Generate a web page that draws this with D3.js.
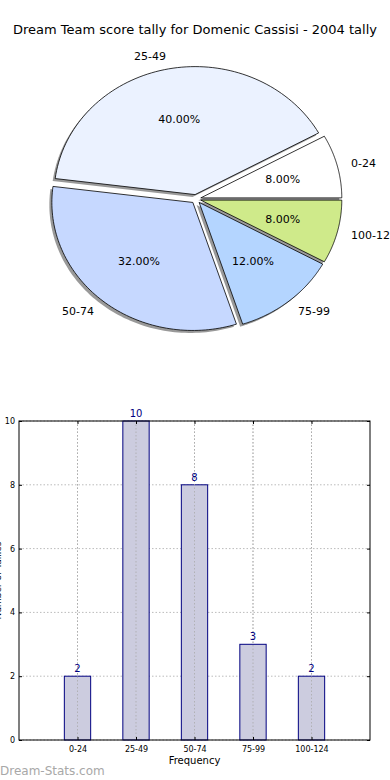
<!DOCTYPE html>
<html><head><meta charset="utf-8">
<script src="https://cdn.jsdelivr.net/npm/d3@7/dist/d3.min.js"></script>
<style>body{margin:0;background:#fff;}svg{display:block;font-family:"DejaVu Sans",sans-serif;}</style>
</head><body>
<script>
const categories = ["0-24","25-49","50-74","75-99","100-124"];
const counts = [2,10,8,3,2];
const sliceColors = ["#ffffff","#ebf2ff","#c6d8ff","#b4d5ff","#cfea8a"];
const yTicks = [0,2,4,6,8,10];
const title = "Dream Team score tally for Domenic Cassisi - 2004 tally";

const W = 390, H = 780;
const svg = d3.select("body").append("svg").attr("width", W).attr("height", H);

svg.append("text").attr("x", 195).attr("y", 34).attr("text-anchor","middle")
  .attr("font-size", 13).attr("fill","#000").text(title);

// ---- Pie (elliptical, matplotlib style: start at 3 o'clock, counter-clockwise)
const cx = 196, cy = 199, rx = 141, ry = 128, ex = 0.035;
const total = d3.sum(counts);
const angScale = d3.scaleLinear().domain([0, total]).range([0, 2*Math.PI]);
let cum = 0;
const slices = counts.map((v,i)=>{ const a0 = angScale(cum); cum += v; const a1 = angScale(cum); return {i, v, a0, a1, mid:(a0+a1)/2}; });

function slicePath(s, ox, oy){
  const p = d3.path();
  const sx = cx + ex*rx*Math.cos(s.mid) + ox, sy = cy - ex*ry*Math.sin(s.mid) + oy;
  p.moveTo(sx, sy);
  const n = 80;
  for(let k=0;k<=n;k++){
    const a = s.a0 + (s.a1 - s.a0)*k/n;
    p.lineTo(sx + rx*Math.cos(a), sy - ry*Math.sin(a));
  }
  p.closePath();
  return p.toString();
}
const pieG = svg.append("g");
pieG.selectAll("path.shadow").data(slices).join("path").attr("class","shadow")
  .attr("d", s=>slicePath(s, -2.5, 2.5)).attr("fill","#000").attr("fill-opacity",0.4);
pieG.selectAll("path.slice").data(slices).join("path").attr("class","slice")
  .attr("d", s=>slicePath(s, 0, 0)).attr("fill", s=>sliceColors[s.i])
  .attr("stroke","#000").attr("stroke-width",0.8);
slices.forEach(s=>{
  const sx = cx + ex*rx*Math.cos(s.mid), sy = cy - ex*ry*Math.sin(s.mid);
  const c = Math.cos(s.mid), sn = Math.sin(s.mid);
  pieG.append("text").attr("x", sx + 1.1*rx*c).attr("y", sy - 1.1*ry*sn)
    .attr("dy","0.35em").attr("text-anchor", c < 0 ? "end" : "start")
    .attr("font-size", 11).text(categories[s.i]);
  pieG.append("text").attr("x", sx + 0.6*rx*c).attr("y", sy - 0.6*ry*sn)
    .attr("dy","0.35em").attr("text-anchor","middle")
    .attr("font-size", 11).text((100*s.v/total).toFixed(2) + "%");
});

// ---- Bar chart
const L = 19, R = 370, T = 421, B = 740;
const x = d3.scaleLinear().domain([-1, 5]).range([L, R]);
const y = d3.scaleLinear().domain([0, 10]).range([B, T]);
const bw = 0.45;
const g = svg.append("g");

g.selectAll("line.gx").data(categories).join("line")
  .attr("x1",(d,i)=>x(i)).attr("x2",(d,i)=>x(i)).attr("y1",T).attr("y2",B)
  .attr("stroke","#bbbbbb").attr("stroke-dasharray","1.5,2").attr("stroke-width",1);
g.selectAll("line.gy").data(yTicks).join("line")
  .attr("x1",L).attr("x2",R).attr("y1",d=>y(d)).attr("y2",d=>y(d))
  .attr("stroke","#bbbbbb").attr("stroke-dasharray","1.5,2").attr("stroke-width",1);

g.selectAll("rect.bar").data(counts).join("rect")
  .attr("x",(d,i)=>x(i - bw/2)).attr("width", x(bw) - x(0))
  .attr("y", d=>y(d)).attr("height", d=>B - y(d))
  .attr("fill","#ccccdf").attr("stroke","#000080").attr("stroke-width",1);
g.selectAll("line.gx2").data(categories).join("line")
  .attr("x1",(d,i)=>x(i)).attr("x2",(d,i)=>x(i)).attr("y1",T).attr("y2",B)
  .attr("stroke","#aaaaaa").attr("stroke-dasharray","1.5,2").attr("stroke-width",1).attr("stroke-opacity",0.8);
g.selectAll("text.val").data(counts).join("text")
  .attr("x",(d,i)=>x(i)).attr("y", d=>y(d) - 4).attr("text-anchor","middle")
  .attr("font-size",10).attr("fill","#000080").text(d=>d);

g.append("rect").attr("x",L).attr("y",T).attr("width",R-L).attr("height",B-T)
  .attr("fill","none").attr("stroke","#000").attr("stroke-width",1);

const yAxisL = d3.axisLeft(y).tickValues(yTicks).tickSize(-3).tickPadding(4);
const ya = svg.append("g").attr("transform",`translate(${L},0)`).call(yAxisL);
ya.select(".domain").remove();
ya.selectAll("text").attr("font-size",8).attr("font-family","DejaVu Sans, sans-serif");
ya.selectAll("line").attr("stroke","#000");
const yAxisR = d3.axisRight(y).tickValues(yTicks).tickSize(-3).tickFormat("");
const yr = svg.append("g").attr("transform",`translate(${R},0)`).call(yAxisR);
yr.select(".domain").remove();

const xAxisB = d3.axisBottom(x).tickValues(d3.range(categories.length))
  .tickFormat(i=>categories[i]).tickSize(-3).tickPadding(6);
const xa = svg.append("g").attr("transform",`translate(0,${B})`).call(xAxisB);
xa.select(".domain").remove();
xa.selectAll("text").attr("font-size",8).attr("font-family","DejaVu Sans, sans-serif");
const xAxisT = d3.axisTop(x).tickValues(d3.range(categories.length)).tickSize(-3).tickFormat("");
const xt = svg.append("g").attr("transform",`translate(0,${T})`).call(xAxisT);
xt.select(".domain").remove();

svg.append("text").attr("x", (L+R)/2).attr("y", 764).attr("text-anchor","middle")
  .attr("font-size",10).text("Frequency");
svg.append("text").attr("transform",`translate(1,${(T+B)/2}) rotate(-90)`)
  .attr("text-anchor","middle").attr("font-size",9).text("Number of Tallies");

svg.append("text").attr("x",0).attr("y",775).attr("font-size",12)
  .attr("fill","#a8a8a8").text("Dream-Stats.com");
</script>
</body></html>
